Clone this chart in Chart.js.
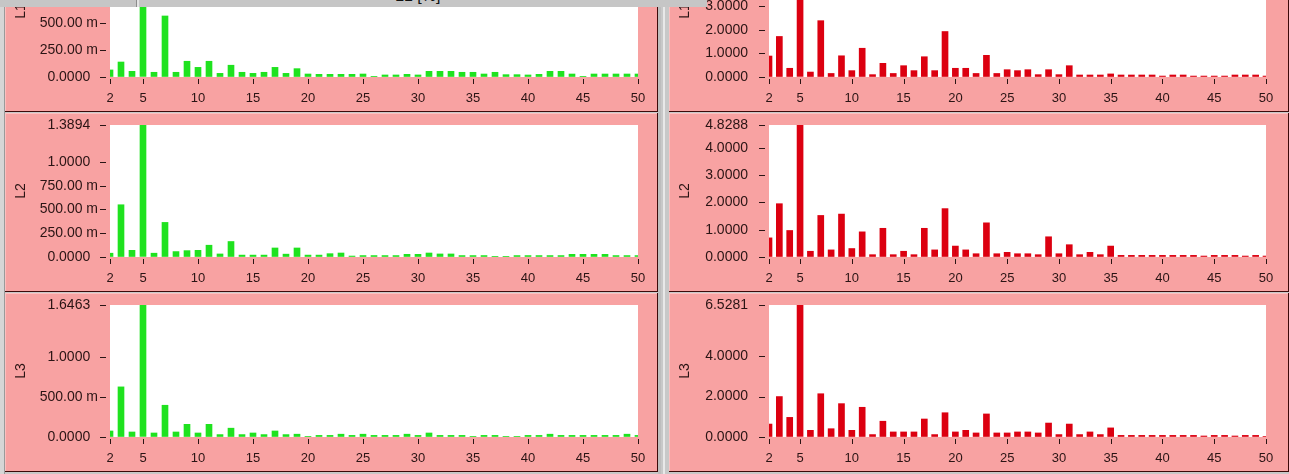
<!DOCTYPE html>
<html lang="en">
<head>
<meta charset="UTF-8">
<title>L1 L2 L3 [%]</title>
<script src="https://cdn.jsdelivr.net/npm/chart.js"></script>
<style>
  body { margin: 0; width: 1289px; height: 474px; overflow: hidden; position: relative; background: #c8c8c8; font-family: 'Liberation Sans', Arial, sans-serif; }
  .frame { position: absolute; left: 0; top: 0; width: 5px; height: 474px; background: #d6d6d6; border-right: 1px solid #9a9a9a; box-sizing: border-box; }
  .gap { position: absolute; left: 658px; top: 0; width: 11px; height: 474px; background: #c8c8c8; border-left: 3px solid #bdbdbd; box-sizing: border-box; }
  .gap::after { content: ''; position: absolute; left: 2px; top: 0; width: 2px; height: 474px; background: #e8e8e8; }
  .panel { position: absolute; background: #f8a2a2; box-shadow: inset -1px -1px 0 #3c0a0a, inset 1px 1px 0 #fbc0c0; }
  .panel canvas { position: absolute; left: 0; top: 0; }
  .topbar { position: absolute; left: 0; top: 0; width: 707px; height: 7px; background: #c6c6c6; overflow: hidden; }
  .topbar .sep { position: absolute; left: 136px; top: 0; width: 1px; height: 7px; background: #8c8c8c; }
  .topbar .sep2 { position: absolute; left: 137px; top: 0; width: 2px; height: 7px; background: #e4e4e4; }
  .topbar .title { position: absolute; left: 395px; top: -13px; font-size: 16px; color: #111; white-space: nowrap; }
</style>
</head>
<body>
  <div class="frame"></div>
  <div class="gap"></div>

  <div class="panel" style="left:5px; top:-67px; width:653px; height:179px;"><canvas id="g1" width="653" height="179"></canvas></div>
  <div class="panel" style="left:5px; top:113px; width:653px; height:179px;"><canvas id="g2" width="653" height="179"></canvas></div>
  <div class="panel" style="left:5px; top:293px; width:653px; height:179px;"><canvas id="g3" width="653" height="179"></canvas></div>

  <div class="panel" style="left:669px; top:-67px; width:620px; height:179px;"><canvas id="r1" width="620" height="179"></canvas></div>
  <div class="panel" style="left:669px; top:113px; width:620px; height:179px;"><canvas id="r2" width="620" height="179"></canvas></div>
  <div class="panel" style="left:669px; top:293px; width:620px; height:179px;"><canvas id="r3" width="620" height="179"></canvas></div>

  <div class="topbar"><div class="sep"></div><div class="sep2"></div><div class="title">L1 [%]</div></div>

<script>
// harmonic orders on the x axis
const orders = [2, 3, 4, 5, 6, 7, 8, 9, 10, 11, 12, 13, 14, 15, 16, 17, 18, 19, 20, 21, 22, 23, 24, 25, 26,
                27, 28, 29, 30, 31, 32, 33, 34, 35, 36, 37, 38, 39, 40, 41, 42, 43, 44, 45, 46, 47, 48, 49, 50];
const xTicks = [2, 5, 10, 15, 20, 25, 30, 35, 40, 45, 50];

// left column (green)
const greenL1 = [0.066, 0.14, 0.053, 1.233, 0.044, 0.57, 0.044, 0.147, 0.09, 0.147, 0.034, 0.11, 0.044, 0.034, 0.044,
                 0.09, 0.034, 0.078, 0.028, 0.025, 0.025, 0.025, 0.025, 0.028, 0.003, 0.019, 0.019, 0.025, 0.019,
                 0.053, 0.053, 0.053, 0.044, 0.044, 0.028, 0.044, 0.022, 0.022, 0.019, 0.025, 0.053, 0.053, 0.028,
                 0.003, 0.028, 0.028, 0.028, 0.028, 0.028];
const greenL2 = [0.04, 0.55, 0.07, 1.3894, 0.04, 0.364, 0.057, 0.067, 0.07, 0.124, 0.032, 0.163, 0.02, 0.02, 0.02,
                 0.095, 0.03, 0.095, 0.02, 0.02, 0.035, 0.042, 0.01, 0.015, 0.015, 0.015, 0.015, 0.028, 0.028,
                 0.042, 0.032, 0.032, 0.015, 0.015, 0.015, 0.007, 0.007, 0.015, 0.015, 0.015, 0.015, 0.015, 0.028,
                 0.028, 0.028, 0.028, 0.015, 0.015, 0.015];
const greenL3 = [0.075, 0.625, 0.0625, 1.6463, 0.05, 0.396, 0.0625, 0.158, 0.05, 0.158, 0.03, 0.11, 0.03, 0.05, 0.03,
                 0.075, 0.03, 0.035, 0.008, 0.02, 0.02, 0.035, 0.02, 0.035, 0.02, 0.02, 0.02, 0.035, 0.02,
                 0.05, 0.02, 0.02, 0.02, 0.008, 0.02, 0.02, 0.008, 0.008, 0.02, 0.02, 0.035, 0.02, 0.02,
                 0.02, 0.02, 0.02, 0.02, 0.035, 0.02];

// right column (red)
const redL1 = [0.89, 1.72, 0.37, 5.6012, 0.21, 2.39, 0.15, 0.9, 0.27, 1.22, 0.1, 0.58, 0.15, 0.48, 0.27,
               0.86, 0.27, 1.93, 0.37, 0.37, 0.15, 0.92, 0.15, 0.31, 0.27, 0.31, 0.1, 0.31, 0.1,
               0.48, 0.085, 0.085, 0.085, 0.13, 0.085, 0.085, 0.085, 0.085, 0.04, 0.085, 0.085, 0.04, 0.04,
               0.04, 0.04, 0.085, 0.085, 0.085, 0.04];
const redL2 = [0.7, 1.95, 0.97, 4.8288, 0.21, 1.52, 0.26, 1.57, 0.31, 0.92, 0.085, 1.05, 0.085, 0.21, 0.085,
               1.05, 0.26, 1.77, 0.4, 0.26, 0.12, 1.25, 0.12, 0.17, 0.12, 0.12, 0.085, 0.74, 0.12,
               0.45, 0.085, 0.17, 0.085, 0.4, 0.06, 0.06, 0.06, 0.06, 0.06, 0.06, 0.06, 0.06, 0.035,
               0.06, 0.06, 0.06, 0.035, 0.06, 0.035];
const redL3 = [0.64, 2.0, 0.97, 6.5281, 0.33, 2.14, 0.41, 1.65, 0.33, 1.47, 0.12, 0.78, 0.25, 0.25, 0.25,
               0.89, 0.12, 1.2, 0.25, 0.33, 0.2, 1.14, 0.2, 0.2, 0.25, 0.25, 0.2, 0.69, 0.12,
               0.64, 0.12, 0.25, 0.12, 0.45, 0.08, 0.08, 0.08, 0.08, 0.08, 0.08, 0.08, 0.08, 0.05,
               0.08, 0.08, 0.05, 0.08, 0.08, 0.03];

// y tick values (last one is the scale maximum)
const yTicksGreenL1 = [0, 0.25, 0.5, 0.75, 1.0, 1.233];
const yTicksGreenL2 = [0, 0.25, 0.5, 0.75, 1.0, 1.3894];
const yTicksGreenL3 = [0, 0.5, 1.0, 1.6463];
const yTicksRedL1 = [0, 1, 2, 3, 4, 5, 5.6012];
const yTicksRedL2 = [0, 1, 2, 3, 4, 4.8288];
const yTicksRedL3 = [0, 2, 4, 6.5281];

const textColor = '#2a1414';
Chart.defaults.font.family = "'Liberation Sans', Arial, sans-serif";
Chart.defaults.font.size = 14;
Chart.defaults.color = textColor;

// LabVIEW style labels: milli prefix below 1
function fmtMilli(v) {
    if (v === 0) return '0.0000';
    if (v < 1) return (v * 1000).toFixed(2) + ' m';
    return v.toFixed(4);
}
function fmtPlain(v) {
    return v.toFixed(4);
}

const whiteArea = {
    id: 'whiteArea',
    beforeDraw(chart) {
        const a = chart.chartArea;
        chart.ctx.save();
        chart.ctx.fillStyle = '#ffffff';
        chart.ctx.fillRect(a.left, a.top, a.right - a.left, a.bottom - a.top);
        chart.ctx.restore();
    }
};

// short tick marks with a small gap from the plot, like the LabVIEW graph
const tickMarks = {
    id: 'tickMarks',
    afterDraw(chart) {
        const ctx = chart.ctx, a = chart.chartArea;
        const xs = chart.scales.x, ys = chart.scales.y;
        ctx.save();
        ctx.strokeStyle = textColor;
        ctx.lineWidth = 1;
        ctx.beginPath();
        ys.ticks.forEach(t => {
            const y = Math.round(ys.getPixelForValue(t.value)) + 0.5;
            ctx.moveTo(a.left - 10, y);
            ctx.lineTo(a.left - 4, y);
        });
        xs.ticks.forEach(t => {
            const x = Math.round(xs.getPixelForValue(t.value)) + 0.5;
            ctx.moveTo(x, a.bottom + 2);
            ctx.lineTo(x, a.bottom + 7);
        });
        ctx.stroke();
        ctx.restore();
    }
};

function panel(id, values, yTicks, title, color, fmt, axisWidth, padRight, labelGap) {
    new Chart(document.getElementById(id), {
        type: 'bar',
        data: {
            datasets: [{
                data: orders.map((o, i) => ({ x: o, y: values[i] })),
                backgroundColor: color,
                borderWidth: 0,
                barThickness: 6
            }]
        },
        options: {
            responsive: false,
            animation: false,
            layout: { padding: { top: 12, right: padRight, left: 0, bottom: 0 } },
            plugins: { legend: { display: false }, tooltip: { enabled: false } },
            scales: {
                x: {
                    type: 'linear',
                    min: 2,
                    max: 50,
                    offset: false,
                    afterBuildTicks: s => { s.ticks = xTicks.map(v => ({ value: v })); },
                    afterFit: s => { s.height = 35; },
                    border: { display: false },
                    grid: { display: false, offset: false },
                    ticks: { padding: 6, maxRotation: 0, autoSkip: false, color: textColor, font: { size: 13 } }
                },
                y: {
                    min: 0,
                    max: yTicks[yTicks.length - 1],
                    afterBuildTicks: s => { s.ticks = yTicks.map(v => ({ value: v })); },
                    afterFit: s => { s.width = axisWidth; },
                    border: { display: false },
                    // invisible built-in ticks only reserve room; visible marks come from tickMarks
                    grid: { drawOnChartArea: false, drawTicks: true, tickLength: labelGap, tickColor: 'rgba(0,0,0,0)' },
                    ticks: { callback: v => fmt(v), crossAlign: 'center', padding: 3, autoSkip: false, color: textColor },
                    title: { display: true, text: title, color: textColor, padding: { top: 8, bottom: 0 }, font: { size: 14 } }
                }
            }
        },
        plugins: [whiteArea, tickMarks]
    });
}

const green = '#1fe21f';
const red = '#dc0010';

panel('g1', greenL1, yTicksGreenL1, 'L1', green, fmtMilli, 105, 20, 9);
panel('g2', greenL2, yTicksGreenL2, 'L2', green, fmtMilli, 105, 20, 9);
panel('g3', greenL3, yTicksGreenL3, 'L3', green, fmtMilli, 105, 20, 9);
panel('r1', redL1, yTicksRedL1, 'L1', red, fmtPlain, 100, 23, 18);
panel('r2', redL2, yTicksRedL2, 'L2', red, fmtPlain, 100, 23, 18);
panel('r3', redL3, yTicksRedL3, 'L3', red, fmtPlain, 100, 23, 18);
</script>
</body>
</html>
